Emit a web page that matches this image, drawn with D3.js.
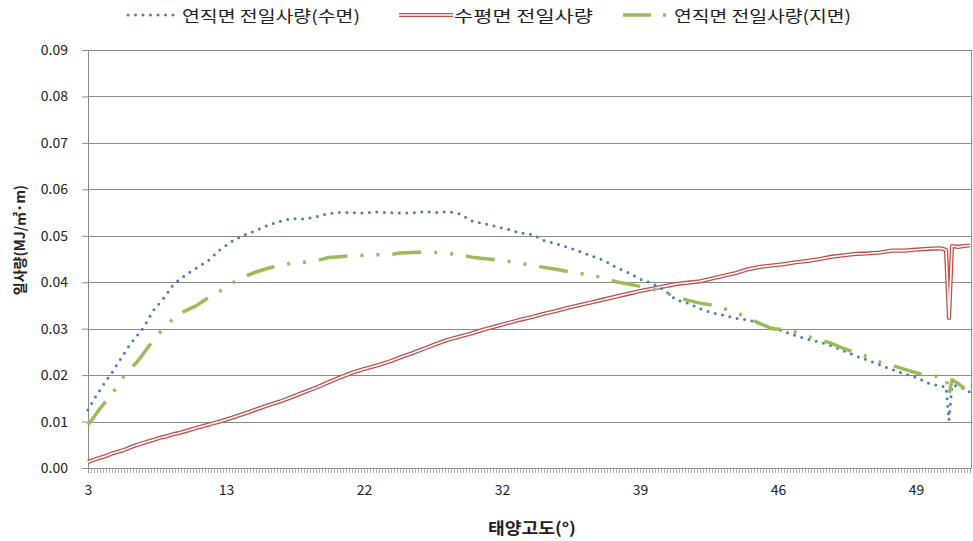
<!DOCTYPE html>
<html>
<head>
<meta charset="utf-8">
<script src="https://cdn.jsdelivr.net/npm/d3@7"></script>
<style>
  body { margin: 0; background: #fff; }
  text { font-family: "Noto Sans CJK KR", "Noto Sans", sans-serif; fill: #222; }
</style>
</head>
<body>
<svg id="chart" width="973" height="541"></svg>
<script>
// Time-step index of each sample (one step per category on the x axis)
const steps = [0,2,4,6,8,10,12,14,16,18,20,22,24,26,28,30,33,36,40,44,48,52,56,60,64,68,72,76,80,84,88,92,96,100,104,108,112,116,120,124,128,132,136,140,144,148,152,156,160,164,168,172,176,180,184,188,192,196,200,204,208,212,216,220,224,228,232,236,240,244,248,252,256,260,264,268,272,276,280,284,286,287,288,290,292,294];

// 연직면 전일사량(수면)
const verticalWater = [0.0125,0.0148,0.0168,0.0188,0.0205,0.0226,0.0246,0.0266,0.0282,0.0298,0.0319,0.0341,0.0356,0.0372,0.0391,0.0403,0.0418,0.0430,0.0446,0.0470,0.0488,0.0502,0.0511,0.0523,0.0531,0.0537,0.0536,0.0541,0.0548,0.0550,0.0550,0.0549,0.0551,0.0550,0.0549,0.0549,0.0552,0.0550,0.0552,0.0547,0.0532,0.0526,0.0520,0.0514,0.0506,0.0503,0.0490,0.0483,0.0475,0.0466,0.0456,0.0447,0.0432,0.0421,0.0407,0.0397,0.0384,0.0362,0.0355,0.0343,0.0334,0.0329,0.0322,0.0319,0.0311,0.0302,0.0294,0.0285,0.0277,0.0271,0.0263,0.0252,0.0241,0.0232,0.0222,0.0212,0.0203,0.0195,0.0183,0.0176,0.0175,0.0103,0.0178,0.0176,0.0170,0.0163];

// 수평면 전일사량
const horizontal = [0.0013,0.0018,0.0022,0.0026,0.0031,0.0035,0.0039,0.0044,0.0049,0.0053,0.0057,0.0061,0.0065,0.0068,0.0072,0.0075,0.0080,0.0086,0.0093,0.0100,0.0108,0.0117,0.0126,0.0135,0.0143,0.0153,0.0163,0.0173,0.0184,0.0195,0.0205,0.0213,0.0220,0.0228,0.0238,0.0247,0.0257,0.0267,0.0276,0.0283,0.0290,0.0298,0.0305,0.0312,0.0319,0.0325,0.0332,0.0338,0.0345,0.0351,0.0357,0.0363,0.0369,0.0375,0.0381,0.0386,0.0391,0.0396,0.0399,0.0402,0.0408,0.0414,0.0420,0.0428,0.0433,0.0436,0.0439,0.0443,0.0446,0.0450,0.0455,0.0458,0.0461,0.0462,0.0464,0.0468,0.0468,0.0470,0.0472,0.0473,0.0470,0.0323,0.0478,0.0476,0.0478,0.0479];

// 연직면 전일사량(지면)
const verticalGround = [0.0093,0.0110,0.0128,0.0144,0.0160,0.0177,0.0198,0.0213,0.0226,0.0242,0.0260,0.0277,0.0292,0.0304,0.0319,0.0331,0.0340,0.0349,0.0366,0.0381,0.0398,0.0412,0.0422,0.0430,0.0436,0.0441,0.0443,0.0446,0.0453,0.0455,0.0457,0.0458,0.0459,0.0459,0.0463,0.0464,0.0465,0.0464,0.0462,0.0459,0.0454,0.0451,0.0448,0.0445,0.0441,0.0436,0.0432,0.0428,0.0423,0.0419,0.0414,0.0410,0.0401,0.0396,0.0391,0.0385,0.0378,0.0369,0.0361,0.0355,0.0351,0.0343,0.0335,0.0323,0.0311,0.0300,0.0298,0.0292,0.0283,0.0276,0.0268,0.0257,0.0248,0.0239,0.0228,0.0221,0.0213,0.0205,0.0199,0.0197,0.0196,0.0157,0.0190,0.0182,0.0172,0.0164];

// Axis ticks
const yTicks = [0,0.01,0.02,0.03,0.04,0.05,0.06,0.07,0.08,0.09];
const xTickSteps = [0,46,92,138,184,230,276];
const xTickLabels = ["3","13","22","32","39","46","49"];
const stepCount = 295;

const seriesNames = ["연직면 전일사량(수면)", "수평면 전일사량", "연직면 전일사량(지면)"];

const svg = d3.select("#chart");
const plot = { left: 88, right: 971, top: 50, bottom: 468 };

const x = d3.scaleLinear().domain([0, stepCount - 1]).range([plot.left, 970]);
const y = d3.scaleLinear().domain([0, 0.09]).range([plot.bottom, plot.top]);

const gridColor = "#8a8a8a";

// Horizontal gridlines
svg.append("g")
  .attr("transform", `translate(${plot.left},0)`)
  .call(d3.axisLeft(y).tickValues(yTicks).tickSize(-(plot.right - plot.left)).tickFormat(""))
  .call(g => g.select(".domain").remove())
  .call(g => g.selectAll("line").attr("stroke", gridColor).attr("shape-rendering", "crispEdges"));

// Plot frame (right edge)
svg.append("line")
  .attr("x1", plot.right).attr("x2", plot.right)
  .attr("y1", plot.top).attr("y2", plot.bottom)
  .attr("stroke", gridColor).attr("shape-rendering", "crispEdges");

// Y axis with labels
svg.append("g")
  .attr("transform", `translate(${plot.left},0)`)
  .call(d3.axisLeft(y).tickValues(yTicks).tickSize(6).tickPadding(14).tickFormat(d3.format(".2f")))
  .call(g => g.select(".domain").attr("stroke", gridColor))
  .call(g => g.selectAll("line").attr("stroke", gridColor))
  .call(g => g.selectAll("text").attr("font-size", 14).attr("font-family", "'Noto Sans CJK KR', sans-serif").attr("fill", "#333"));

// X axis: one tick per time step
svg.append("g")
  .attr("transform", `translate(0,${plot.bottom})`)
  .call(d3.axisBottom(x).tickValues(d3.range(stepCount)).tickSize(5).tickFormat(""))
  .call(g => g.select(".domain").attr("stroke", gridColor))
  .call(g => g.selectAll("line").attr("stroke", "#9a9a9a").attr("stroke-width", 0.8));

// X axis labels (solar altitude)
svg.append("g")
  .attr("transform", `translate(0,${plot.bottom})`)
  .call(d3.axisBottom(x).tickValues(xTickSteps).tickSize(0).tickPadding(17)
        .tickFormat((d, i) => xTickLabels[i]))
  .call(g => g.select(".domain").remove())
  .call(g => g.selectAll("text").attr("font-size", 14).attr("font-family", "'Noto Sans CJK KR', sans-serif").attr("fill", "#333"));

// Axis titles
svg.append("text")
  .attr("x", 532).attr("y", 527)
  .attr("text-anchor", "middle").attr("dominant-baseline", "central")
  .attr("font-size", 16).attr("font-weight", "bold")
  .attr("textLength", 88).attr("lengthAdjust", "spacingAndGlyphs")
  .text("태양고도(°)");

svg.append("text")
  .attr("transform", "translate(19,240) rotate(-90)")
  .attr("text-anchor", "middle").attr("dominant-baseline", "central")
  .attr("font-size", 14).attr("font-weight", "bold")
  .text("일사량(MJ/㎡·m)");

// Series
const line = d3.line().x(d => x(d[0])).y(d => y(d[1]));
const pts = vals => steps.map((s, i) => [s, vals[i]]);

const styles = {
  blue: { stroke: "#4a7ebb", width: 3, dash: "0,7.5", cap: "round" },
  green: { stroke: "#9bbb59", width: 3.5, dash: "29,13,3,13,3,13", cap: "butt" }
};

// 수평면: double line (red outline with white core)
svg.append("path").datum(pts(horizontal))
  .attr("d", line).attr("fill", "none")
  .attr("stroke", "#c0504d").attr("stroke-width", 4.2).attr("stroke-linejoin", "round");
svg.append("path").datum(pts(horizontal))
  .attr("d", line).attr("fill", "none")
  .attr("stroke", "#fff").attr("stroke-width", 1.6).attr("stroke-linejoin", "round");

svg.append("path").datum(pts(verticalWater))
  .attr("d", line).attr("fill", "none")
  .attr("stroke", styles.blue.stroke).attr("stroke-width", styles.blue.width)
  .attr("stroke-dasharray", styles.blue.dash).attr("stroke-linecap", styles.blue.cap);

svg.append("path").datum(pts(verticalGround))
  .attr("d", line).attr("fill", "none")
  .attr("stroke", styles.green.stroke).attr("stroke-width", styles.green.width)
  .attr("stroke-dasharray", styles.green.dash).attr("stroke-linecap", styles.green.cap)
  .attr("stroke-linejoin", "round");

// Legend
const legend = svg.append("g").attr("font-size", 16);
const ly = 15;

legend.append("line").attr("x1", 128).attr("x2", 174).attr("y1", ly).attr("y2", ly)
  .attr("stroke", styles.blue.stroke).attr("stroke-width", styles.blue.width)
  .attr("stroke-dasharray", styles.blue.dash).attr("stroke-linecap", "round");
legend.append("text").attr("x", 182).attr("y", ly).attr("dominant-baseline", "central")
  .attr("textLength", 178).attr("lengthAdjust", "spacingAndGlyphs").text(seriesNames[0]);

legend.append("line").attr("x1", 399).attr("x2", 453).attr("y1", ly).attr("y2", ly)
  .attr("stroke", "#c0504d").attr("stroke-width", 4.2);
legend.append("line").attr("x1", 399).attr("x2", 453).attr("y1", ly).attr("y2", ly)
  .attr("stroke", "#fff").attr("stroke-width", 1.6);
legend.append("text").attr("x", 454).attr("y", ly).attr("dominant-baseline", "central")
  .attr("textLength", 139).attr("lengthAdjust", "spacingAndGlyphs").text(seriesNames[1]);

legend.append("line").attr("x1", 623).attr("x2", 666).attr("y1", ly).attr("y2", ly)
  .attr("stroke", styles.green.stroke).attr("stroke-width", styles.green.width)
  .attr("stroke-dasharray", "28,12,3,200");
legend.append("text").attr("x", 674).attr("y", ly).attr("dominant-baseline", "central")
  .attr("textLength", 177).attr("lengthAdjust", "spacingAndGlyphs").text(seriesNames[2]);
</script>
</body>
</html>
